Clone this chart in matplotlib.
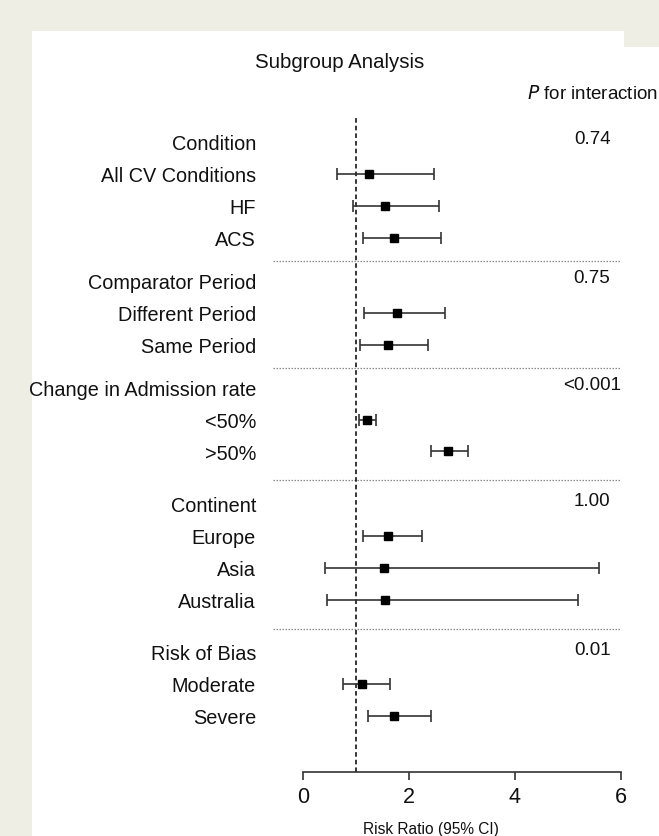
import matplotlib
matplotlib.use("Agg")
import matplotlib.pyplot as plt
from matplotlib.patches import Rectangle

plt.rcParams['font.family'] = ['Liberation Sans', 'DejaVu Sans']

# ---------------- data ----------------
group_titles = ["Condition", "Comparator Period", "Change in Admission rate",
                "Continent", "Risk of Bias"]
group_items = [["All CV Conditions", "HF", "ACS"],
               ["Different Period", "Same Period"],
               ["<50%", ">50%"],
               ["Europe", "Asia", "Australia"],
               ["Moderate", "Severe"]]
point_est = [[1.26, 1.56, 1.72],
             [1.77, 1.60],
             [1.21, 2.74],
             [1.60, 1.54, 1.56],
             [1.12, 1.73]]
ci_low = [[0.64, 0.94, 1.13],
          [1.16, 1.09],
          [1.07, 2.43],
          [1.14, 0.42, 0.46],
          [0.76, 1.23]]
ci_high = [[2.48, 2.57, 2.60],
           [2.68, 2.36],
           [1.38, 3.11],
           [2.26, 5.59, 5.19],
           [1.65, 2.43]]
p_values = ["0.74", "0.75", "<0.001", "1.00", "0.01"]
x_ticks = [0, 2, 4, 6]

# ---------------- layout ----------------
W, H = 659, 837
fig = plt.figure(figsize=(W / 100, H / 100), dpi=100)
beige = '#efeee4'
fig.patch.set_facecolor(beige)
fig.add_artist(Rectangle((32 / W, 0), (624 - 32) / W, (H - 32) / H,
                         transform=fig.transFigure, facecolor='white',
                         edgecolor='none', zorder=0))
fig.add_artist(Rectangle((624 / W, 0), (W - 624) / W, (H - 48) / H,
                         transform=fig.transFigure, facecolor='white',
                         edgecolor='none', zorder=0))

row_px = 31.9
y0_px = 143
ax_left_px, ax_right_px = 302.7, 620.7
ax_top_px, ax_bot_px = 118, 773
ax = fig.add_axes([ax_left_px / W, 1 - ax_bot_px / H,
                   (ax_right_px - ax_left_px) / W, (ax_bot_px - ax_top_px) / H])
ax.set_facecolor('none')
ax.set_xlim(0, 6)
ax.set_ylim((ax_bot_px - y0_px) / row_px, (ax_top_px - y0_px) / row_px)

gaps = [1.35, 1.35, 1.65, 1.65]
label_x = -0.88
pcol_x = 5.46
txt_color = '#111111'
bar_color = '#333333'
lab_fs = 14.3
txt_off = 0.05

y = 0.0
for g, title in enumerate(group_titles):
    ax.text(label_x, y + txt_off, title, ha='right', va='center',
            fontsize=lab_fs, color=txt_color, clip_on=False)
    ax.text(pcol_x, y - 0.1, p_values[g], ha='center', va='center',
            fontsize=13.5, color=txt_color, clip_on=False)
    for i, item in enumerate(group_items[g]):
        y += 1
        ax.text(label_x, y + txt_off, item, ha='right', va='center',
                fontsize=lab_fs, color=txt_color, clip_on=False)
        pe = point_est[g][i]
        ax.errorbar([pe], [y],
                    xerr=[[pe - ci_low[g][i]], [ci_high[g][i] - pe]],
                    fmt='s', color='black', ecolor=bar_color, elinewidth=1.2,
                    capsize=4, capthick=1.2, markersize=6, zorder=3,
                    clip_on=False)
    if g < len(gaps):
        sep = y + gaps[g] * 0.55
        ax.plot([-0.56, 6], [sep, sep], ls=(0, (1.2, 1.2)), color='#888888',
                lw=0.9, clip_on=False, zorder=1)
        y += gaps[g]

ax.axvline(1, ls=(0, (3, 2)), color='black', lw=1.1, zorder=2)

# header texts
ax.text(0.70, (63 - y0_px) / row_px, "Subgroup Analysis", ha='center',
        va='center', fontsize=14.7, color=txt_color, clip_on=False)
ax.text(5.47, (94 - y0_px) / row_px, r"$\it{P}$ for interaction", ha='center',
        va='center', fontsize=13.5, color=txt_color, clip_on=False)

# axes styling
for s in ['top', 'right', 'left']:
    ax.spines[s].set_visible(False)
ax.spines['bottom'].set_color(bar_color)
ax.spines['bottom'].set_linewidth(1.2)
ax.spines['bottom'].set_bounds(0, 6)
ax.set_yticks([])
ax.set_xticks(x_ticks)
ax.set_xticklabels([str(t) for t in x_ticks])
ax.tick_params(axis='x', length=6, width=1.2, color=bar_color,
               labelsize=15.5, labelcolor=txt_color, pad=4)
ax.set_xlabel("Risk Ratio (95% CI)", fontsize=11.2, color=txt_color)
ax.xaxis.set_label_coords((431 - ax_left_px) / (ax_right_px - ax_left_px),
                          (ax_bot_px - 830) / (ax_bot_px - ax_top_px))
ax.xaxis.label.set_verticalalignment('center')

fig.savefig("out.png", dpi=100, facecolor=fig.get_facecolor())
